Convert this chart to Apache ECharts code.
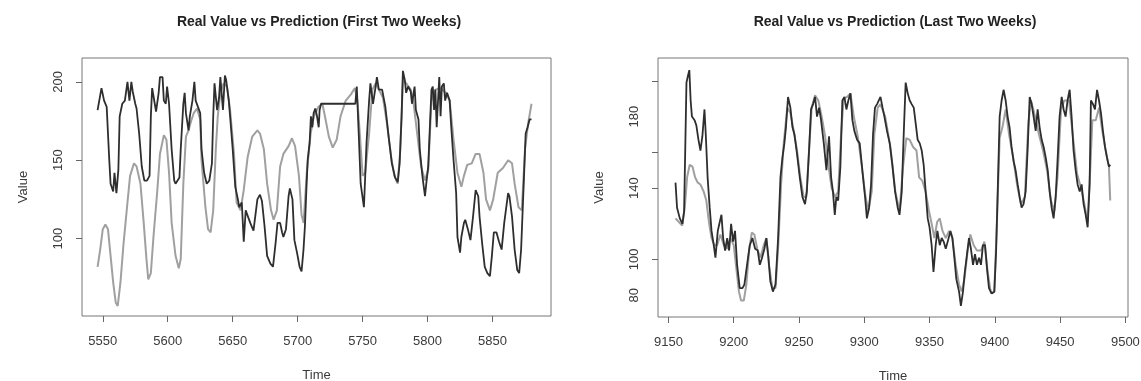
<!DOCTYPE html>
<html>
<head>
<meta charset="utf-8">
<title>Real Value vs Prediction</title>
<script src="https://cdn.jsdelivr.net/npm/echarts@6/dist/echarts.min.js"></script>
<style>
  html, body { margin: 0; padding: 0; background: #fff; }
  #chart { width: 1141px; height: 381px; }
</style>
</head>
<body>
<div id="chart"></div>
<script>
// ── First two weeks ──
const firstRealTime = [5546, 5549, 5551, 5553, 5554, 5555, 5556, 5558, 5559, 5560.5, 5562, 5563, 5565, 5567, 5569, 5570.5, 5572, 5573, 5575, 5576, 5578, 5580, 5582, 5584, 5586, 5587, 5588, 5590, 5591, 5593, 5594, 5596, 5597, 5598.5, 5599.5, 5601, 5603, 5605, 5606, 5607, 5609, 5610, 5612, 5613, 5614, 5616, 5617, 5619, 5620.5, 5621.5, 5623, 5625, 5626, 5628, 5630, 5632, 5634, 5635, 5636, 5638, 5639.5, 5640.5, 5642.5, 5644, 5645, 5647, 5648, 5650, 5652, 5654, 5655, 5657, 5658.5, 5660, 5661.5, 5663.5, 5666, 5669, 5671, 5672.5, 5674.5, 5676.5, 5679, 5681, 5683, 5684.5, 5686.5, 5688, 5689, 5691, 5693, 5694, 5696, 5697.5, 5699.5, 5701.5, 5703, 5704.5, 5705.6, 5706.7, 5707.7, 5709.2, 5710.2, 5711.3, 5712.3, 5713.6, 5714.9, 5716.2, 5716.9, 5718, 5744.4, 5745.5, 5747, 5748.5, 5749.5, 5751, 5752, 5753, 5755, 5756, 5758, 5760, 5761, 5762.5, 5765, 5767.5, 5770, 5772.5, 5775, 5777, 5778.5, 5780, 5781, 5782.5, 5783.5, 5785, 5787, 5788, 5790, 5791, 5793, 5794, 5796, 5798, 5799, 5800.5, 5802, 5803, 5804, 5805, 5806, 5807, 5809, 5810, 5811, 5812.5, 5813.5, 5815, 5817, 5818, 5820, 5822, 5823, 5825, 5826, 5828, 5829, 5831, 5833, 5835, 5837, 5839, 5840, 5842, 5844, 5846, 5848, 5849.5, 5851, 5853, 5855, 5857, 5859, 5862, 5863, 5865, 5867, 5869, 5870.5, 5872, 5874, 5875.5, 5877, 5878.5, 5880];
const firstRealValue = [182, 196, 188, 184, 167, 150, 135, 130, 142, 129, 144, 178, 186, 188, 200, 188, 200, 194, 186, 183, 167, 146, 137, 137, 140, 178, 196, 186, 181, 193, 203, 203, 188, 186, 197, 186, 157, 137, 135, 136, 139, 157, 186, 193, 180, 169, 178, 188, 200, 188, 187, 180, 157, 142, 135, 137, 148, 178, 199, 182, 190, 203, 182, 204, 201, 188, 178, 157, 133, 125, 120, 123, 98, 118, 117, 110, 105, 125, 128, 124, 108, 89, 84, 82, 97, 110, 110, 104, 101, 106, 127, 132, 125, 99, 91, 82, 79, 93, 108, 131, 150, 161, 178, 171, 180, 183, 178, 171, 182, 186, 186, 197, 167, 135, 129, 120, 140, 161, 188, 199, 186, 197, 203, 195, 195, 184, 165, 148, 139, 136, 148, 178, 207, 201, 193, 197, 194, 186, 197, 182, 176, 157, 140, 127, 135, 146, 176, 195, 197, 182, 195, 171, 203, 178, 197, 199, 188, 193, 188, 174, 150, 129, 101, 91, 101, 110, 112, 106, 99, 114, 131, 127, 114, 97, 82, 78, 76, 89, 104, 104, 98, 93, 110, 129, 127, 114, 93, 80, 78, 93, 135, 167, 171, 176, 176];

const firstPredTime = [5546, 5548, 5550, 5552, 5554, 5556, 5558, 5560, 5561.5, 5563.6, 5566, 5569, 5571, 5574, 5576, 5579, 5581.5, 5583.6, 5585, 5587, 5589, 5592, 5594, 5597, 5599, 5601, 5603, 5606, 5608.5, 5610, 5612, 5614, 5616, 5618, 5620, 5622.5, 5625, 5626, 5629, 5631, 5633, 5635, 5637, 5638.5, 5640.5, 5643, 5645.6, 5648, 5651, 5653, 5656, 5658.5, 5661.5, 5665, 5669, 5671, 5674, 5676.5, 5679.5, 5681.5, 5684, 5686.5, 5689, 5693, 5695.6, 5698, 5701, 5703, 5704.6, 5707, 5710, 5712.5, 5716, 5719, 5721, 5724, 5727, 5730, 5733, 5737, 5741, 5744, 5746, 5748, 5750, 5752, 5755, 5757.5, 5760, 5762.5, 5765.6, 5768.7, 5772, 5774.4, 5777, 5779, 5781, 5783.6, 5787, 5789, 5792, 5795, 5798, 5800.5, 5803, 5806, 5810, 5814, 5817, 5820, 5823, 5826, 5828, 5830.5, 5834, 5837, 5840, 5843, 5845, 5848, 5850.5, 5854, 5858, 5862, 5865, 5867, 5870, 5872.5, 5875, 5877.5, 5880];
const firstPredValue = [82, 93, 106, 109, 106, 89, 72, 59, 57, 72, 97, 123, 140, 148, 146, 135, 110, 87, 74, 78, 101, 131, 154, 166, 163, 142, 110, 89, 81, 87, 135, 165, 169, 175, 180, 183, 176, 150, 120, 106, 104, 118, 157, 178, 193, 199, 197, 182, 154, 123, 118, 131, 152, 165, 169, 167, 157, 135, 118, 112, 118, 146, 154, 159, 164, 159, 140, 115, 110, 142, 167, 178, 184, 186, 178, 165, 158, 163, 178, 188, 192, 196, 188, 165, 140, 142, 167, 195, 199, 195, 190, 174, 152, 140, 135, 157, 201, 199, 195, 188, 167, 146, 137, 144, 188, 195, 196, 193, 188, 163, 142, 133, 140, 147, 148, 154, 154, 142, 125, 118, 125, 142, 145, 150, 148, 135, 120, 118, 157, 174, 186];

// ── Last two weeks ──
const lastRealTime = [9155.4, 9156.6, 9158.7, 9160.7, 9162, 9163.8, 9165, 9166, 9167, 9168, 9170, 9171.4, 9173, 9174.5, 9176, 9177.6, 9178.6, 9180, 9181.6, 9183, 9184.7, 9186, 9187.8, 9189, 9190.6, 9191.9, 9193.4, 9195, 9196.5, 9198, 9199.5, 9201, 9202.6, 9204.6, 9206.7, 9208.2, 9210.2, 9212.3, 9214.3, 9216.4, 9218.4, 9220, 9221.7, 9223.5, 9225, 9226.6, 9228, 9230, 9232, 9234, 9235.8, 9237.3, 9238.8, 9240, 9241.6, 9243.4, 9245, 9246.5, 9248.5, 9250.6, 9252.6, 9254.6, 9256, 9257.7, 9259.2, 9260.8, 9262.3, 9263.8, 9265.4, 9266.9, 9269, 9271, 9273, 9274.6, 9276, 9277.4, 9278.6, 9280, 9281.7, 9283.2, 9284.8, 9286.3, 9287.8, 9289.4, 9290.9, 9292.4, 9294.5, 9296.5, 9298.5, 9300.6, 9302, 9303.7, 9305.2, 9306.7, 9308.2, 9309.8, 9312.4, 9314, 9315.4, 9317.4, 9319.5, 9321.5, 9323.6, 9325.6, 9327, 9328.7, 9330.2, 9331.7, 9333.3, 9334.8, 9336.3, 9337.9, 9339.4, 9340.9, 9342.5, 9344, 9345.5, 9347, 9348.6, 9350, 9351.6, 9353, 9354.7, 9356, 9357.8, 9359.3, 9360.8, 9362.4, 9363.9, 9366, 9367.5, 9369, 9370.5, 9372.6, 9374, 9375.6, 9377, 9378.7, 9380.2, 9381.7, 9383.3, 9384.8, 9386.3, 9387.9, 9389.4, 9390.9, 9392.5, 9394, 9395.5, 9397.6, 9399.6, 9401, 9402.2, 9403.7, 9405.2, 9406.7, 9408.3, 9409.8, 9411.3, 9412.8, 9414.4, 9415.9, 9417.5, 9419, 9420.5, 9422, 9423.6, 9425.1, 9426.7, 9428.2, 9429.7, 9431.3, 9432.8, 9434.3, 9435.9, 9437.4, 9439, 9440.5, 9442, 9443.5, 9445, 9446.6, 9448, 9449.6, 9451.2, 9452.7, 9454.2, 9455.7, 9457.3, 9458.8, 9460.3, 9461.9, 9463.4, 9465, 9466.5, 9468, 9469.6, 9471.1, 9472.6, 9473.6, 9475.2, 9476.7, 9478.3, 9479.8, 9481.3, 9482.8, 9484.4, 9485.9, 9487.4, 9488.4];
const lastRealValue = [143, 129, 123, 120, 127, 199, 203, 206, 189, 180, 178, 175, 167, 161, 169, 184, 170, 146, 129, 116, 108, 101, 116, 120, 125, 112, 105, 112, 105, 120, 110, 116, 97, 84, 84, 86, 97, 108, 112, 106, 105, 97, 101, 106, 112, 101, 88, 82, 86, 112, 146, 157, 165, 174, 191, 185, 174, 170, 159, 146, 135, 131, 138, 161, 184, 187, 191, 180, 185, 178, 165, 150, 169, 146, 138, 125, 135, 133, 152, 189, 191, 184, 189, 193, 178, 172, 167, 165, 150, 135, 123, 129, 142, 170, 185, 187, 191, 185, 180, 172, 165, 153, 138, 129, 125, 138, 170, 199, 193, 189, 187, 185, 176, 167, 165, 161, 153, 138, 123, 118, 108, 93, 108, 116, 108, 112, 110, 106, 110, 116, 112, 101, 89, 82, 74, 82, 93, 103, 112, 106, 97, 103, 97, 101, 97, 108, 108, 95, 84, 81, 82, 105, 138, 180, 189, 195, 189, 180, 174, 163, 155, 150, 142, 135, 129, 131, 138, 161, 191, 187, 180, 172, 184, 174, 167, 163, 157, 150, 138, 129, 123, 135, 155, 180, 191, 184, 180, 189, 195, 180, 161, 150, 142, 138, 142, 131, 125, 118, 142, 189, 187, 184, 195, 189, 182, 172, 163, 157, 152, 153];

const lastPredTime = [9155.4, 9158, 9160.5, 9162.5, 9164.3, 9166.3, 9168.4, 9170.4, 9172.5, 9174.5, 9177, 9179, 9181, 9183, 9185.2, 9187.3, 9189.8, 9192.4, 9195, 9197.5, 9200, 9202, 9204, 9205.6, 9207.7, 9209.7, 9211.8, 9213.8, 9215.8, 9218, 9220.4, 9223, 9225, 9227, 9229.6, 9232, 9234, 9236.3, 9238.3, 9241, 9243.4, 9246, 9248.5, 9251, 9253.6, 9255.6, 9257.7, 9259.7, 9262.3, 9264.8, 9267.4, 9270, 9272.5, 9275, 9277.6, 9280, 9282.2, 9284.2, 9286.8, 9289.4, 9292, 9295, 9298, 9300.6, 9303, 9305.7, 9307.7, 9310.3, 9312.4, 9316, 9320, 9323.8, 9327, 9329.7, 9332.2, 9334.8, 9337.4, 9340, 9342, 9344.5, 9347, 9349.6, 9351.6, 9353.7, 9355.8, 9357.8, 9359.9, 9362.4, 9365, 9367.5, 9370, 9372.6, 9374.6, 9376.7, 9379.2, 9381.2, 9383.8, 9386.3, 9389.4, 9392, 9394.5, 9397, 9399.6, 9401.7, 9403.7, 9405.8, 9408.3, 9410.9, 9414, 9417, 9420, 9423, 9425.6, 9427.7, 9430.8, 9433.8, 9436.9, 9440, 9443, 9445.6, 9448, 9450.7, 9453.2, 9456.8, 9459.8, 9463, 9466, 9468.6, 9471, 9473.2, 9474.7, 9477.3, 9479.8, 9482.3, 9484.9, 9487.4, 9488.4];
const lastPredValue = [123, 121, 119, 129, 146, 153, 152, 146, 143, 142, 138, 133, 121, 112, 108, 108, 114, 108, 106, 112, 108, 95, 82, 77, 77, 86, 105, 115, 114, 106, 101, 108, 112, 97, 84, 84, 106, 142, 165, 185, 182, 172, 161, 146, 135, 135, 161, 185, 192, 189, 180, 169, 153, 140, 135, 138, 170, 190, 191, 193, 180, 169, 153, 137, 127, 138, 170, 185, 187, 180, 163, 138, 127, 152, 168, 167, 163, 161, 146, 144, 138, 127, 120, 112, 121, 123, 116, 112, 116, 112, 97, 86, 82, 89, 105, 114, 108, 105, 105, 110, 93, 81, 82, 123, 168, 174, 184, 170, 157, 142, 131, 135, 176, 189, 180, 170, 161, 150, 133, 127, 146, 184, 189, 189, 169, 148, 140, 131, 121, 152, 178, 178, 185, 172, 161, 152, 133];

// ── Axis ticks / labels ──
const firstTimeTicks = [5550, 5600, 5650, 5700, 5750, 5800, 5850];
const lastTimeTicks = [9150, 9200, 9250, 9300, 9350, 9400, 9450, 9500];
const firstValueTicks = [100, 150, 200];
const lastValueTicks = [100, 140, 160, 200];
const lastValueLabels = [80, 100, 140, 180];

const zip = (xs, ys) => xs.map((x, i) => [x, ys[i]]);

const FONT = '"Liberation Sans", Arial, sans-serif';
const TEXT = '#3a3a3a';
const AXIS = '#666';

function timeAxis(gridIndex, min, max, ticks) {
  return {
    type: 'value', gridIndex, min, max,
    name: 'Time', nameLocation: 'middle', nameGap: 53,
    nameTextStyle: { color: TEXT, fontSize: 13, fontFamily: FONT },
    axisLine: { show: false },
    splitLine: { show: false },
    axisTick: { show: true, inside: false, length: 6, customValues: ticks, lineStyle: { color: AXIS } },
    axisLabel: { customValues: ticks, formatter: (v) => String(v), margin: 19, color: TEXT, fontSize: 13, fontFamily: FONT },
  };
}

function valueAxis(gridIndex, min, max, ticks, labels) {
  return {
    type: 'value', gridIndex, min, max,
    name: 'Value', nameLocation: 'middle', nameGap: 52,
    nameTextStyle: { color: TEXT, fontSize: 13, fontFamily: FONT },
    axisLine: { show: false },
    splitLine: { show: false },
    axisTick: { show: true, inside: false, length: 6, customValues: ticks, lineStyle: { color: AXIS } },
    axisLabel: { customValues: labels, formatter: (v) => String(v), rotate: 90, margin: 17, color: TEXT, fontSize: 13, fontFamily: FONT },
  };
}

const chart = echarts.init(document.getElementById('chart'), null, { renderer: 'canvas' });

chart.setOption({
  animation: false,
  backgroundColor: '#fff',
  title: [
    {
      text: 'Real Value vs Prediction (First Two Weeks)',
      left: 319, top: 15, textAlign: 'center', padding: 0,
      textStyle: { color: '#222', fontSize: 14, fontWeight: 'bold', fontFamily: FONT },
    },
    {
      text: 'Real Value vs Prediction (Last Two Weeks)',
      left: 895, top: 15, textAlign: 'center', padding: 0,
      textStyle: { color: '#222', fontSize: 14, fontWeight: 'bold', fontFamily: FONT },
    },
  ],
  grid: [
    { left: 82, top: 58, width: 469, height: 258, show: true, borderColor: '#777', borderWidth: 1, backgroundColor: 'transparent', containLabel: false, outerBoundsMode: 'none' },
    { left: 658, top: 58, width: 470, height: 259, show: true, borderColor: '#777', borderWidth: 1, backgroundColor: 'transparent', containLabel: false, outerBoundsMode: 'none' },
  ],
  xAxis: [
    timeAxis(0, 5534, 5895, firstTimeTicks),
    timeAxis(1, 9142, 9502, lastTimeTicks),
  ],
  yAxis: [
    valueAxis(0, 50.6, 215.2, firstValueTicks, firstValueTicks),
    valueAxis(1, 67.8, 212.8, lastValueTicks, lastValueLabels),
  ],
  series: [
    {
      name: 'Prediction', type: 'line', xAxisIndex: 0, yAxisIndex: 0,
      data: zip(firstPredTime, firstPredValue),
      showSymbol: false, smooth: false,
      lineStyle: { color: '#a0a0a0', width: 2 },
    },
    {
      name: 'Real Value', type: 'line', xAxisIndex: 0, yAxisIndex: 0,
      data: zip(firstRealTime, firstRealValue),
      showSymbol: false, smooth: false,
      lineStyle: { color: '#2e2e2e', width: 1.8 },
    },
    {
      name: 'Prediction', type: 'line', xAxisIndex: 1, yAxisIndex: 1,
      data: zip(lastPredTime, lastPredValue),
      showSymbol: false, smooth: false,
      lineStyle: { color: '#a0a0a0', width: 2 },
    },
    {
      name: 'Real Value', type: 'line', xAxisIndex: 1, yAxisIndex: 1,
      data: zip(lastRealTime, lastRealValue),
      showSymbol: false, smooth: false,
      lineStyle: { color: '#2e2e2e', width: 1.8 },
    },
  ],
});
</script>
</body>
</html>
